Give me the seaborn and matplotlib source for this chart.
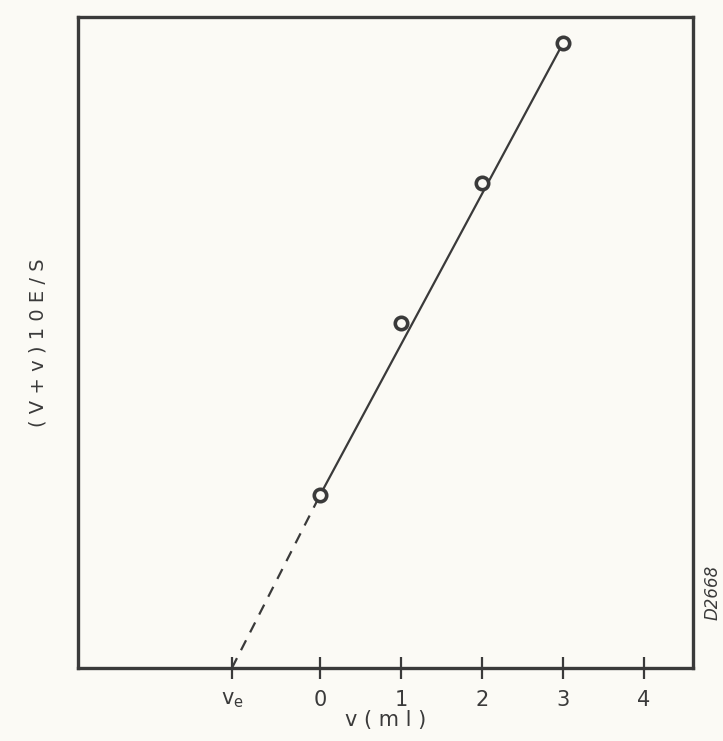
import numpy as np
import pandas as pd
import matplotlib
matplotlib.use("Agg")
import matplotlib.pyplot as plt
import seaborn as sns

# === Data ===
v_ml = [0, 1, 2, 3]                      # added volume v (ml)
y_val = [0.266, 0.53, 0.745, 0.96]       # (V+v)10^(E/S), arbitrary units
ve = -1.09                               # extrapolated end point v_e
tick_pos = [ve, 0, 1, 2, 3, 4]
tick_lbl = ["v$_e$", "0", "1", "2", "3", "4"]

df = pd.DataFrame({"v": v_ml, "y": y_val})
fit_solid = pd.DataFrame({"v": [v_ml[0], v_ml[-1]], "y": [y_val[0], y_val[-1]]})
fit_dash = pd.DataFrame({"v": [ve, v_ml[0]], "y": [0.0, y_val[0]]})

sns.set_style("white")
plt.rcParams["font.family"] = ["DejaVu Sans"]
plt.rcParams["mathtext.default"] = "regular"

ink = "#3a3a3a"
bg = "#fbfaf5"

fig = plt.figure(figsize=(7.23, 7.41), dpi=100, facecolor=bg)
ax = fig.add_axes([0.108, 0.0985, 0.85, 0.8785], facecolor=bg)

# solid fitted line + dashed extrapolation
sns.lineplot(data=fit_solid, x="v", y="y", ax=ax, color=ink, lw=1.6)
sns.lineplot(data=fit_dash, x="v", y="y", ax=ax, color=ink, lw=1.6,
             linestyle=(0, (5, 4)))
# open circle points
sns.scatterplot(data=df, x="v", y="y", ax=ax, s=80, marker="o",
                facecolor=bg, edgecolor=ink, linewidth=2.6, zorder=5)

ax.set_xlim(-2.99, 4.60)
ax.set_ylim(0, 1.0)
ax.set_xticks(tick_pos)
ax.set_xticklabels(tick_lbl, fontsize=15, color=ink)
ax.set_yticks([])
ax.tick_params(axis="x", direction="inout", length=16, width=1.6,
               color=ink, pad=8, bottom=True)
for s in ax.spines.values():
    s.set_visible(True)
    s.set_color(ink)
    s.set_linewidth(2.4)

ax.set_xlabel("v ( m l )", fontsize=15, color=ink, labelpad=0)
ax.set_ylabel("( V + v ) 1 0 E / S", fontsize=14, color=ink, labelpad=22)

fig.text(0.985, 0.20, "D2668", rotation=90, fontsize=12, style="italic",
         color=ink, ha="center", va="center")

fig.savefig("out.png", dpi=100, facecolor=bg)
